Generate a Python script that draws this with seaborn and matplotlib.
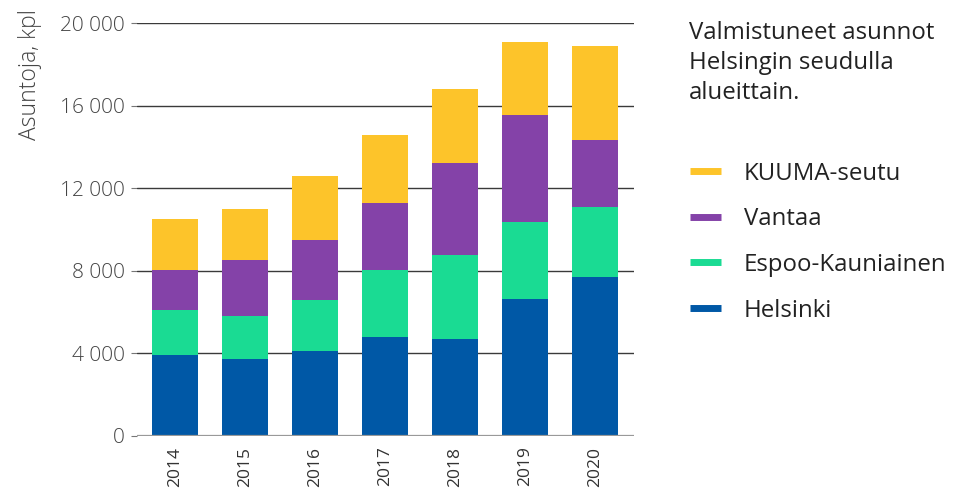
import matplotlib
matplotlib.use("Agg")
import matplotlib.pyplot as plt
from matplotlib.lines import Line2D
import numpy as np
import pandas as pd
import seaborn as sns

years = ["2014", "2015", "2016", "2017", "2018", "2019", "2020"]
helsinki = [3900, 3690, 4100, 4780, 4680, 6620, 7680]
espoo = [2180, 2100, 2470, 3240, 4070, 3730, 3400]
vantaa = [1940, 2720, 2910, 3250, 4460, 5190, 3250]
kuuma = [2480, 2470, 3100, 3300, 3590, 3540, 4550]

series_names = ["Helsinki", "Espoo-Kauniainen", "Vantaa", "KUUMA-seutu"]
colors = {
    "Helsinki": "#0058A6",
    "Espoo-Kauniainen": "#1ADB93",
    "Vantaa": "#8442A8",
    "KUUMA-seutu": "#FDC42A",
}
yticks = [0, 4000, 8000, 12000, 16000, 20000]
ytick_labels = ["0", "4 000", "8 000", "12 000", "16 000", "20 000"]
title = "Valmistuneet asunnot\nHelsingin seudulla\nalueittain."
ylabel = "Asuntoja, kpl"

df = pd.DataFrame({"year": years, "Helsinki": helsinki, "Espoo-Kauniainen": espoo,
                   "Vantaa": vantaa, "KUUMA-seutu": kuuma})
# cumulative tops of each stacked segment
cum = df[series_names].cumsum(axis=1)

sns.set_theme(style="white")
plt.rcParams["font.family"] = ["Open Sans", "DejaVu Sans"]

fig = plt.figure(figsize=(9.61, 4.98), dpi=100)
ax = fig.add_axes([137 / 961, 62.5 / 498, (634 - 137) / 961, 412.2 / 498])

# draw from the tallest cumulative layer down so lower layers cover upper ones
for name in reversed(series_names):
    sns.barplot(x=df["year"], y=cum[name], color=colors[name], width=0.657,
                saturation=1, ax=ax, zorder=3, linewidth=0)

ax.set_ylim(0, 20000)
ax.set_xlim(-0.543, 6.557)
ax.set_yticks(yticks)
ax.set_yticklabels(ytick_labels, fontsize=15, color="#444444", fontweight="light")
ax.set_xticks(range(len(years)))
ax.set_xticklabels(years, rotation=90, fontsize=12.5, color="#333333")
ax.set_xlabel("")
ax.set_ylabel("")
ax.tick_params(axis="y", length=4, width=0.8, color="#777777", pad=5, left=True)
ax.tick_params(axis="x", length=0, pad=8)

for y in yticks[1:]:
    ax.axhline(y, color="#3a3a3a", lw=1.0, zorder=1)
ax.axhline(0, color="#999999", lw=1.6, zorder=4)
for s in ax.spines.values():
    s.set_visible(False)

fig.text(30 / 961, 1 - 75 / 498, ylabel, rotation=90, ha="center", va="center",
         fontsize=16.5, color="#444444", fontweight="light")

fig.text(689 / 961, 1 - 21 / 498, title, ha="left", va="top", fontsize=17.3,
         color="#222222", linespacing=1.33)

handles = [Line2D([0], [0], color=colors[n], lw=5, solid_capstyle="butt")
           for n in reversed(series_names)]
leg = fig.legend(handles, list(reversed(series_names)), loc="upper left",
                 bbox_to_anchor=(668 / 961, 1 - 140 / 498), frameon=False,
                 fontsize=17.3, handlelength=1.3, handletextpad=0.95,
                 labelspacing=0.9)
for t in leg.get_texts():
    t.set_color("#222222")

fig.savefig("out.png", dpi=100)
